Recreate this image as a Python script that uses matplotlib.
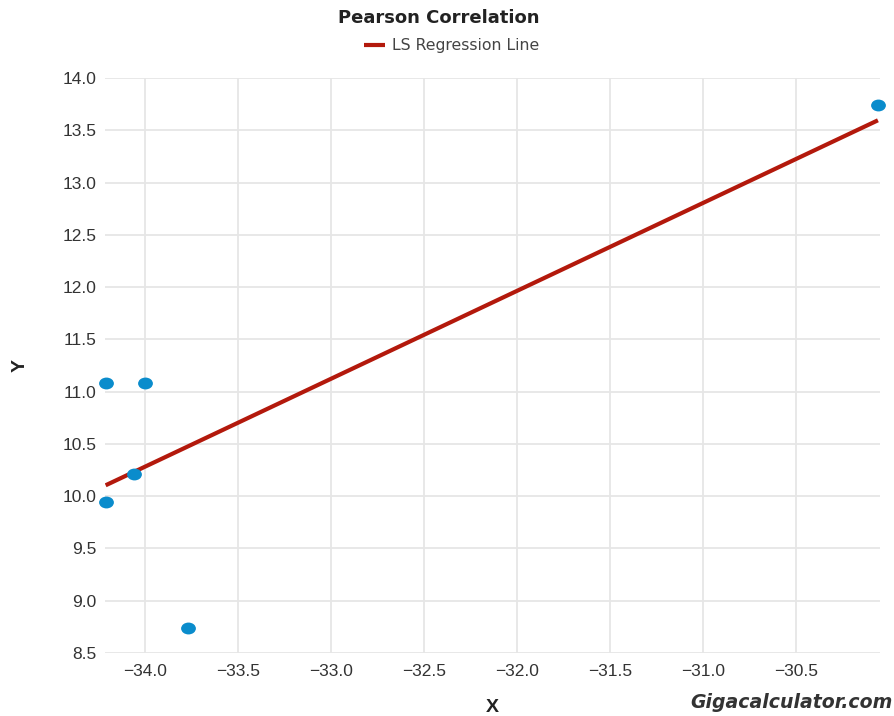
import numpy as np
import matplotlib
matplotlib.use("Agg")
import matplotlib.pyplot as plt
from matplotlib.markers import MarkerStyle
from matplotlib.transforms import Affine2D

# data
x_vals = [-34.21, -34.00, -34.06, -34.21, -33.77, -30.06]
y_vals = [11.08, 11.08, 10.21, 9.94, 8.74, 13.74]

x_ticks = [-34.0, -33.5, -33.0, -32.5, -32.0, -31.5, -31.0, -30.5]
y_ticks = [8.5, 9.0, 9.5, 10.0, 10.5, 11.0, 11.5, 12.0, 12.5, 13.0, 13.5, 14.0]

# least squares fit
slope, intercept = np.polyfit(x_vals, y_vals, 1)
line_x = np.array([min(x_vals), max(x_vals)])
line_y = slope * line_x + intercept

plt.rcParams['font.family'] = ['Liberation Sans', 'DejaVu Sans']

fig = plt.figure(figsize=(8.95, 7.16), dpi=100)
ax = fig.add_axes([0.117, 0.088, 0.866, 0.803])

ax.plot(line_x, line_y, color='#b3190c', lw=3, label='LS Regression Line', zorder=3, solid_capstyle='butt')
dot = MarkerStyle('o', transform=Affine2D().scale(1.15, 0.9))
ax.scatter(x_vals, y_vals, s=70, marker=dot, color='#0a8ccc', zorder=4, clip_on=False)

ax.set_xlim(-34.215, -30.05)
ax.set_ylim(8.5, 14.0)
ax.set_xticks(x_ticks)
ax.set_yticks(y_ticks)
ax.set_xticklabels(['\u2212%.1f' % abs(v) for v in x_ticks])
ax.set_yticklabels(['%.1f' % v for v in y_ticks])
ax.tick_params(axis='both', length=0, labelsize=12.5, colors='#333333', pad=8)
ax.tick_params(axis='y', pad=6)
ax.grid(True, color='#e6e6e6', lw=1.3)
ax.set_axisbelow(True)
for s in ax.spines.values():
    s.set_visible(False)

ax.set_xlabel('X', fontsize=14, fontweight='bold', color='#222222', labelpad=14)
ax.set_ylabel('Y', fontsize=14, fontweight='bold', color='#222222', labelpad=24)

fig.text(0.49, 0.975, 'Pearson Correlation', ha='center', va='center',
         fontsize=13, fontweight='bold', color='#222222', family=['DejaVu Sans'])
fig.legend(loc='center', bbox_to_anchor=(0.505, 0.936), frameon=False,
           handlelength=1.3, handletextpad=0.5, labelcolor='#444444',
           prop={'family': ['DejaVu Sans'], 'size': 11.3})

fig.text(0.997, 0.006, 'Gigacalculator.com', ha='right', va='bottom', fontsize=13.6,
         fontweight='bold', style='italic', color='#333333', family=['DejaVu Sans'])

fig.savefig('out.png', dpi=100)
